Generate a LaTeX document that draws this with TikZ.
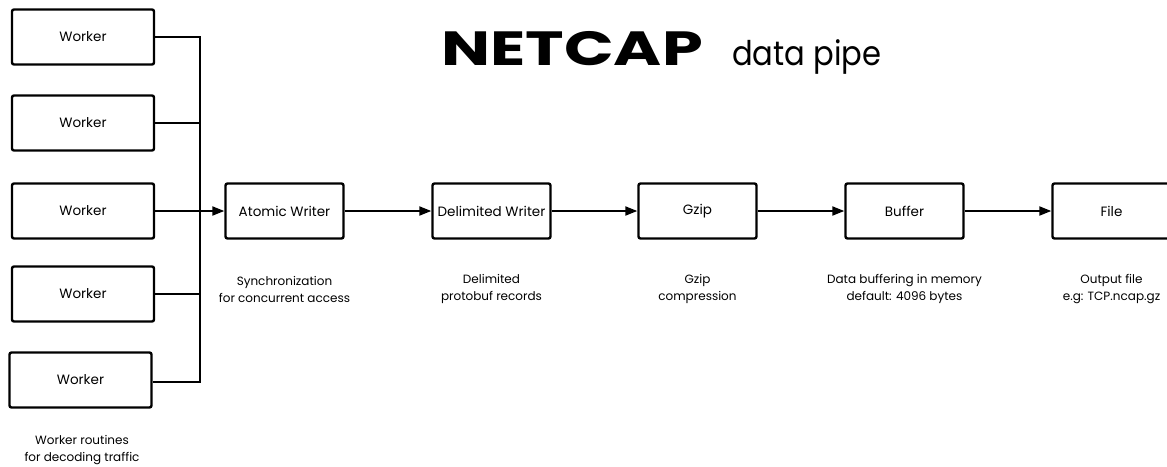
\documentclass[tikz,border=0pt]{standalone}
\usepackage{fontspec}
\usepackage{graphicx}
\setmainfont{Poppins}
\usetikzlibrary{arrows.meta}
\begin{document}
\begin{tikzpicture}[x=1pt,y=-1pt,
  box/.style={draw,line width=2.4pt,rounded corners=2pt,minimum width=118pt,minimum height=55pt,inner sep=0pt,font=\fontsize{13.5}{16}\selectfont},
  wbox/.style={box,minimum width=142pt},
  lbl/.style={align=center,font=\fontsize{12}{17}\selectfont},
  conn/.style={line width=2pt},
  arr/.style={conn,-{Triangle[length=12pt,width=9pt]}}]
\useasboundingbox (0,0) rectangle (1167,466);
\node[wbox] (w1) at (83,37) {Worker};
\node[wbox] (w2) at (83,123) {Worker};
\node[wbox] (w3) at (83,211) {Worker};
\node[wbox] (w4) at (83,294) {Worker};
\node[wbox] (w5) at (80.5,380) {Worker};
\node[lbl] (wl) at (82,450) {Worker routines\\for decoding traffic};
\node[box] (aw) at (284.5,211) {Atomic Writer};
\node[box] (dw) at (491.5,211) {Delimited Writer};
\node[box] (gz) at (697.5,211) {Gzip};
\node[box] (bf) at (904.5,211) {Buffer};
\node[box] (fl) at (1111.5,211) {File};
\node[lbl] (awl) at (284.5,289) {Synchronization\\for concurrent access};
\node[lbl] (dwl) at (491.5,289) {Delimited\\protobuf records};
\node[lbl] (gzl) at (697.5,289) {Gzip\\compression};
\node[lbl] (bfl) at (904.5,289) {Data buffering in memory\\default: 4096 bytes};
\node[lbl] (fll) at (1111.5,289) {Output file\\e.g: TCP.ncap.gz};
\node[anchor=base west,inner sep=0pt] (title) at (441,65) {\scalebox{1.36}[1]{\fontsize{48}{48}\selectfont\bfseries NETCAP}};
\node[anchor=base west,inner sep=0pt] (sub) at (732,65) {\scalebox{0.9}[1]{\fontsize{34}{34}\selectfont data pipe}};
\coordinate (bt) at (200,37);
\coordinate (bb) at (200,382);
\draw[conn] (w1.east) -- (bt) -- (bb) -- (bb -| w5.east);
\draw[conn] (w2.east) -- (w2.east -| bt);
\draw[conn] (w4.east) -- (w4.east -| bt);
\draw[arr] (w3) -- (aw);
\draw[arr] (aw) -- (dw);
\draw[arr] (dw) -- (gz);
\draw[arr] (gz) -- (bf);
\draw[arr] (bf) -- (fl);
\end{tikzpicture}
\end{document}
